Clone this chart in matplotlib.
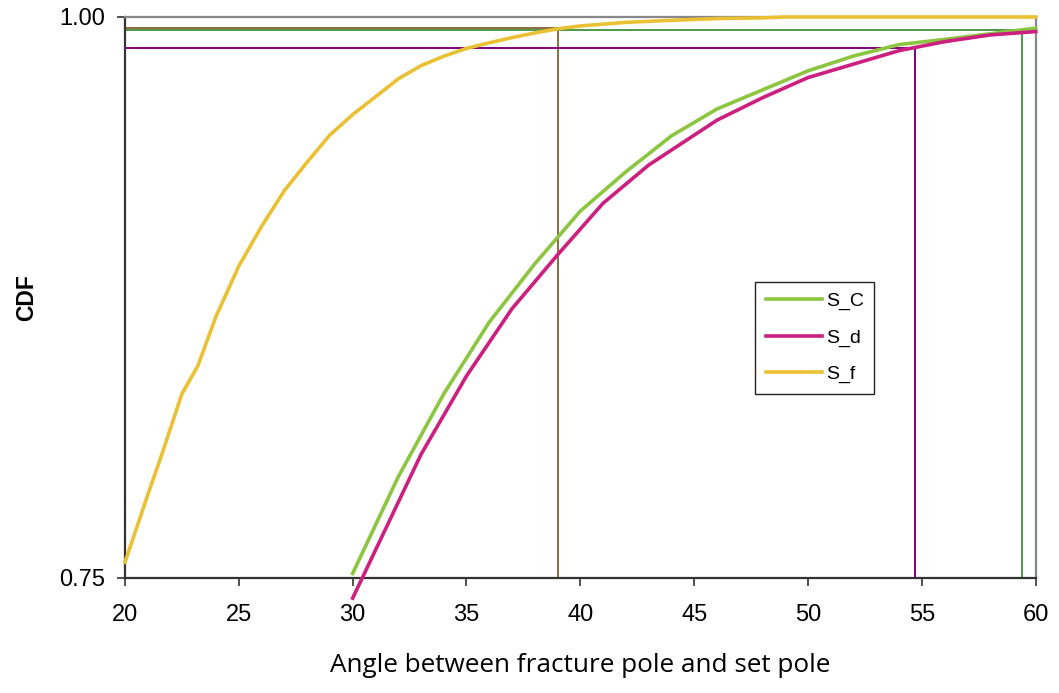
import matplotlib
matplotlib.use("Agg")
import matplotlib.pyplot as plt

# Cumulative distributions of the angle between fracture pole and set pole
sf_angle = [20, 21, 21.6, 22.5, 23.2, 24, 24.6, 25, 26, 27, 28, 29, 30, 31, 32, 33,
            34, 35, 36, 37, 38, 39, 40, 42, 44, 46, 48, 49, 50, 52, 54, 56, 58, 60]
sf_cdf = [0.757, 0.787, 0.8045, 0.832, 0.8445, 0.8666, 0.880, 0.889, 0.9067, 0.9226,
          0.9353, 0.9474, 0.9565, 0.9644, 0.9724, 0.9783, 0.9825, 0.9860, 0.9885,
          0.9908, 0.9929, 0.9947, 0.9960, 0.9976, 0.9985, 0.9993, 0.9996, 1.0, 1.0,
          1.0, 1.0, 1.0, 1.0, 1.0]

sc_angle = [30, 32, 34, 36, 38, 40, 42, 44, 46, 48, 50, 52, 54, 56, 58, 60]
sc_cdf = [0.752, 0.795, 0.832, 0.864, 0.890, 0.9135, 0.931, 0.947, 0.959, 0.9675,
          0.976, 0.9826, 0.9877, 0.990, 0.9925, 0.995]

sd_angle = [30, 33, 35, 37, 39, 41, 43, 46, 48, 50, 52, 54, 56, 58, 60]
sd_cdf = [0.741, 0.805, 0.840, 0.870, 0.894, 0.917, 0.934, 0.954, 0.964, 0.973,
          0.979, 0.985, 0.989, 0.992, 0.9935]

# Percentile guide lines: (angle, cdf level, colour)
guide_angles = [39.0, 59.4, 54.7]
guide_levels = [0.995, 0.9943, 0.986]
guide_colors = ["#8B6B3D", "#4C9A45", "#800080"]

x_ticks = [20, 25, 30, 35, 40, 45, 50, 55, 60]
y_ticks = [0.75, 1.00]
y_tick_labels = ["0.75", "1.00"]

fig = plt.figure(figsize=(10.59, 6.93), dpi=100)
ax = fig.add_axes([0.118, 0.166, 0.860, 0.8095])

for a, lvl, col in zip(guide_angles, guide_levels, guide_colors):
    ax.plot([20, a, a], [lvl, lvl, 0.75], color=col, lw=1.4, zorder=2)

ax.plot(sc_angle, sc_cdf, color="#8CC540", lw=2.6, label="S_C", clip_on=False, zorder=3)
ax.plot(sd_angle, sd_cdf, color="#CC1F7F", lw=2.6, label="S_d", clip_on=False, zorder=3)
ax.plot(sf_angle, sf_cdf, color="#EAC133", lw=2.6, label="S_f", clip_on=False, zorder=3)

ax.set_xlim(20, 60)
ax.set_ylim(0.75, 1.00)
ax.set_xticks(x_ticks)
ax.set_yticks(y_ticks)
ax.set_yticklabels(y_tick_labels)

for lab in ax.get_xticklabels() + ax.get_yticklabels():
    lab.set_fontfamily("Liberation Sans")
    lab.set_fontsize(17)

ax.tick_params(axis="x", direction="out", length=6, width=1.2, pad=13, color="#333333")
ax.tick_params(axis="y", direction="out", length=6, width=1.2, pad=8, color="#333333")

for side in ("left", "bottom"):
    ax.spines[side].set_color("#333333")
    ax.spines[side].set_linewidth(1.6)
for side in ("top", "right"):
    ax.spines[side].set_color("#888888")
    ax.spines[side].set_linewidth(1.6)

ax.set_xlabel("Angle between fracture pole and set pole", family="Open Sans", fontsize=18.8)
ax.xaxis.set_label_coords(0.5, -0.133)
ax.set_ylabel("CDF", family="Liberation Sans", fontsize=16.5, fontweight="bold")
ax.yaxis.set_label_coords(-0.095, 0.5)

leg = ax.legend(loc="upper left", bbox_to_anchor=(0.6916, 0.5276),
                prop=dict(family="Liberation Sans", size=14),
                frameon=True, fancybox=False, edgecolor="#222222", framealpha=1,
                handlelength=2.9, handletextpad=0.2, labelspacing=0.95, borderpad=0.55,
                borderaxespad=0)
leg.get_frame().set_linewidth(1.0)

fig.savefig("out.png", dpi=100)
